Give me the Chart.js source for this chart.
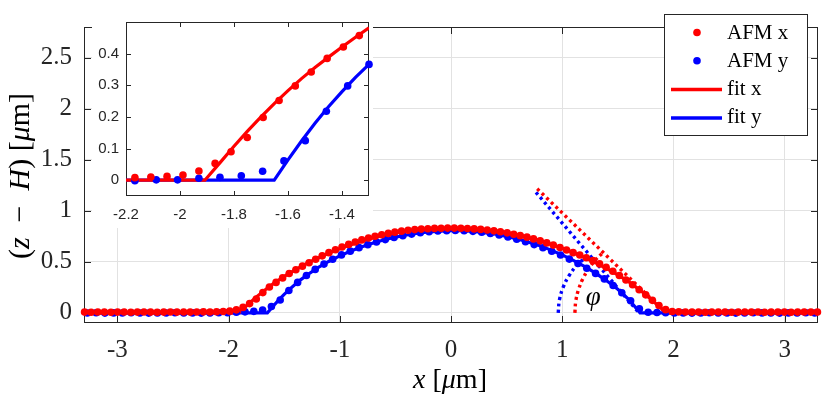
<!DOCTYPE html>
<html>
<head>
<meta charset="utf-8">
<script src="https://cdn.jsdelivr.net/npm/chart.js@4.4.1/dist/chart.umd.min.js"></script>
<style>
  html, body { margin: 0; padding: 0; background: #fff; }
  #wrap { position: relative; width: 823px; height: 399px; }
  #main { position: absolute; left: 0; top: 0; }
  #inset { position: absolute; left: 92px; top: 6px; }
</style>
</head>
<body>
<div id="wrap">
  <canvas id="main" width="823" height="399"></canvas>
  <canvas id="inset" width="281" height="222"></canvas>
</div>
<script>
/* profilo AFM lungo x e y, con fit e angolo di contatto */

// AFM x (punti rossi)
const afmXpos = [
  -3.295,-3.236,-3.176,-3.117,-3.058,-2.998,-2.939,-2.879,-2.820,-2.761,
  -2.701,-2.642,-2.583,-2.523,-2.464,-2.404,-2.345,-2.286,-2.226,-2.167,
  -2.108,-2.048,-1.989,-1.930,-1.870,-1.811,-1.751,-1.692,-1.633,-1.573,
  -1.514,-1.455,-1.395,-1.336,-1.276,-1.217,-1.158,-1.098,-1.039,-0.980,
  -0.920,-0.861,-0.802,-0.742,-0.683,-0.623,-0.564,-0.505,-0.445,-0.386,
  -0.326,-0.267,-0.208,-0.148,-0.089,-0.030,
  0.030,0.089,0.148,0.208,0.267,0.326,0.386,0.445,0.505,0.564,
  0.623,0.683,0.742,0.802,0.861,0.920,0.980,1.039,1.098,1.158,
  1.217,1.276,1.336,1.395,1.455,1.514,1.573,1.633,1.692,1.751,
  1.811,1.870,1.930,1.989,2.048,2.108,2.167,2.226,2.286,2.345,
  2.404,2.464,2.523,2.583,2.642,2.701,2.761,2.820,2.879,2.939,
  2.998,3.058,3.117,3.176,3.236,3.295
];
const afmXval = [
  0.007,0.006,0.008,0.007,0.006,0.007,0.008,0.006,0.007,0.008,
  0.007,0.006,0.007,0.008,0.007,0.008,0.007,0.008,0.009,
  0.008,0.010,0.012,0.016,0.029,0.053,0.090,0.135,0.198,0.252,0.298,0.342,0.385,0.421,0.457,
  0.491,0.525,0.558,0.589,0.618,0.645,0.670,0.693,0.714,0.733,0.750,0.765,0.778,0.790,0.800,
  0.808,0.815,0.820,0.824,0.827,0.829,0.830,
  0.830,0.829,0.826,0.822,0.817,0.811,0.803,0.794,0.783,0.770,0.756,0.741,0.724,0.705,0.685,
  0.663,0.640,0.615,0.589,0.566,0.540,0.511,0.479,0.445,0.407,0.366,0.322,0.275,0.226,0.176,
  0.122,0.072,0.031,0.013,0.009,
  0.008,0.007,0.008,0.006,0.007,0.008,0.007,0.006,0.007,0.008,0.007,
  0.008,0.006,0.007,0.008,0.007,0.006,0.007,0.008,0.007,0.007
];

// AFM y (punti blu)
const afmYpos = [
  -3.270,-3.191,-3.112,-3.034,-2.955,-2.876,-2.797,-2.718,-2.640,-2.561,
  -2.482,-2.403,-2.324,-2.246,-2.167,-2.088,-2.009,-1.930,-1.852,-1.773,
  -1.694,-1.615,-1.536,-1.458,-1.379,-1.300,-1.221,-1.142,-1.064,-0.985,
  -0.906,-0.827,-0.748,-0.670,-0.591,-0.512,-0.433,-0.354,-0.276,-0.197,
  -0.118,-0.039,
  0.039,0.118,0.197,0.276,0.354,0.433,0.512,0.591,0.670,0.748,
  0.827,0.906,0.985,1.064,1.142,1.221,1.300,1.379,1.458,1.536,
  1.615,1.694,1.773,1.852,1.930,2.009,2.088,2.167,2.246,2.324,
  2.403,2.482,2.561,2.640,2.718,2.797,2.876,2.955,3.034,3.112,
  3.191,3.270
];
const afmYval = [
  -0.002,0.000,-0.003,-0.001,-0.002,0.000,-0.002,-0.003,-0.001,-0.002,0.000,-0.002,-0.001,-0.003,
  -0.002,0.001,0.001,0.006,0.009,0.014,0.028,0.061,0.125,0.218,0.298,0.366,
  0.425,0.477,0.525,0.567,0.604,0.638,0.667,0.693,0.717,0.738,0.756,0.771,0.784,0.794,0.801,0.805,
  0.806,0.804,0.798,0.789,0.777,0.762,0.743,0.721,0.696,0.668,0.637,0.603,0.566,0.526,0.483,
  0.436,0.386,0.332,0.268,0.196,0.118,0.040,0.006,0.003,
  0.000,-0.002,-0.001,-0.003,-0.002,0.000,-0.002,-0.001,-0.003,-0.002,0.000,-0.001,-0.002,
  -0.003,-0.001,-0.002,0.000,-0.002
];

// fit x / fit y
const fitXpos = [-3.3,-1.908,-1.85,-1.8,-1.75,-1.7,-1.65,-1.6,-1.55,-1.5,-1.45,-1.4,-1.35,-1.3,
  -1.2,-1.1,-1.0,-0.9,-0.8,-0.7,-0.6,-0.5,-0.4,-0.3,-0.2,-0.1,0,0.1,0.2,0.3,0.4,0.5,0.6,0.7,0.8,0.9,
  1.0,1.1,1.2,1.3,1.4,1.5,1.6,1.7,1.8,1.9,1.93,3.3];
const fitXval = [0,0,0.057,0.107,0.155,0.200,0.243,0.283,0.321,0.356,0.389,0.421,0.452,0.482,
  0.535,0.584,0.628,0.667,0.702,0.734,0.761,0.783,0.801,0.814,0.823,0.828,0.830,0.829,0.824,0.815,
  0.802,0.785,0.763,0.737,0.707,0.672,0.633,0.590,0.542,0.490,0.433,0.372,0.303,0.222,0.130,0.035,0,0];
const fitYpos = [-3.3,-1.651,-1.6,-1.55,-1.5,-1.45,-1.4,-1.35,-1.3,
  -1.2,-1.1,-1.0,-0.9,-0.8,-0.7,-0.6,-0.5,-0.4,-0.3,-0.2,-0.1,0,0.1,0.2,0.3,0.4,0.5,0.6,0.7,0.8,0.9,
  1.0,1.1,1.2,1.3,1.4,1.5,1.6,1.7,3.3];
const fitYval = [0,0,0.064,0.124,0.180,0.232,0.280,0.325,0.366,
  0.440,0.503,0.558,0.606,0.648,0.684,0.715,0.741,0.762,0.779,0.792,0.801,0.805,0.804,0.798,0.786,
  0.770,0.749,0.723,0.692,0.656,0.614,0.567,0.514,0.455,0.388,0.313,0.230,0.130,0,0];

// tangenti e archi dell'angolo (tratteggiati)
const tanXpos = [0.775, 1.93];
const tanXval = [1.215, 0];
const tanYpos = [0.764, 1.69];
const tanYval = [1.18, 0];
const arcXpos = [1.114, 1.122, 1.146, 1.185, 1.238, 1.305, 1.363];
const arcXval = [0, 0.114, 0.225, 0.332, 0.432, 0.525, 0.587];
const arcYpos = [0.964, 0.975, 1.008, 1.061, 1.134, 1.243];
const arcYval = [0, 0.126, 0.248, 0.363, 0.467, 0.572];

// assi
const mainXTicks = [-3, -2, -1, 0, 1, 2, 3];
const mainXLabels = ['-3', '-2', '-1', '0', '1', '2', '3'];
const mainYTicks = [0, 0.5, 1, 1.5, 2, 2.5];
const mainYLabels = ['0', '0.5', '1', '1.5', '2', '2.5'];
const insetXTicks = [-2.2, -2, -1.8, -1.6, -1.4];
const insetXLabels = ['-2.2', '-2', '-1.8', '-1.6', '-1.4'];
const insetYTicks = [0, 0.1, 0.2, 0.3, 0.4];
const insetYLabels = ['0', '0.1', '0.2', '0.3', '0.4'];

const RED = '#ff0000';
const BLUE = '#0000ff';
const AXIS = '#262626';
const GRID = '#e2e2e2';
const SERIF = '"Liberation Serif", "Times New Roman", serif';
const SANS = '"Liberation Sans", Arial, sans-serif';

const pts = (xs, ys) => xs.map((x, i) => ({ x, y: ys[i] }));

function dots(label, xs, ys, color, order) {
  return { label, data: pts(xs, ys), showLine: false, pointRadius: 3.8, pointBorderWidth: 0,
    pointBackgroundColor: color, pointBorderColor: color, order, clip: false };
}
function line(label, xs, ys, color, order, extra) {
  return Object.assign({ label, data: pts(xs, ys), showLine: true, pointRadius: 0, borderColor: color,
    borderWidth: 3.2, tension: 0, order, clip: 0 }, extra || {});
}
function dotted(xs, ys, color, order, tension) {
  return line('', xs, ys, color, order, { borderWidth: 3.4, borderDash: [3, 3.4], borderCapStyle: 'butt', tension });
}

function frame(tickLen) {
  return {
    id: 'frame',
    beforeDatasetsDraw(chart) {
      const { ctx, chartArea: a, scales: { x, y } } = chart;
      ctx.save();
      ctx.strokeStyle = AXIS;
      ctx.lineWidth = 1;
      ctx.beginPath();
      x.ticks.forEach(t => {
        const p = Math.round(x.getPixelForValue(t.value)) + 0.5;
        ctx.moveTo(p, a.bottom); ctx.lineTo(p, a.bottom - tickLen);
        ctx.moveTo(p, a.top); ctx.lineTo(p, a.top + tickLen);
      });
      y.ticks.forEach(t => {
        const p = Math.round(y.getPixelForValue(t.value)) + 0.5;
        ctx.moveTo(a.left, p); ctx.lineTo(a.left + tickLen, p);
        ctx.moveTo(a.right, p); ctx.lineTo(a.right - tickLen, p);
      });
      ctx.stroke();
      ctx.strokeRect(Math.round(a.left) + 0.5, Math.round(a.top) + 0.5, Math.round(a.width) - 1, Math.round(a.height) - 1);
      ctx.restore();
    }
  };
}

function rich(ctx, parts, size) {
  const font = it => (it ? 'italic ' : '') + size + 'px ' + SERIF;
  let w = 0;
  parts.forEach(([t, it]) => { ctx.font = font(it); w += ctx.measureText(t).width; });
  let x = -w / 2;
  parts.forEach(([t, it]) => { ctx.font = font(it); ctx.fillText(t, x, 0); x += ctx.measureText(t).width; });
}

const decorations = {
  id: 'decorations',
  afterDraw(chart) {
    const { ctx, scales: { x, y } } = chart;
    ctx.save();
    ctx.fillStyle = '#000';
    ctx.textBaseline = 'middle';
    ctx.textAlign = 'left';

    // titoli assi
    ctx.save();
    ctx.translate(450, 381);
    rich(ctx, [['x', true], [' [', false], ['μ', true], ['m]', false]], 28);
    ctx.restore();
    ctx.save();
    ctx.translate(21, 176);
    ctx.rotate(-Math.PI / 2);
    rich(ctx, [['(', false], ['z', true], ['\u2002−\u2002', false], ['H', true], [') [', false], ['μ', true], ['m]', false]], 30);
    ctx.restore();

    // angolo
    ctx.save();
    ctx.translate(x.getPixelForValue(1.279), y.getPixelForValue(0.146));
    rich(ctx, [['φ', true]], 27);
    ctx.restore();

    // legenda
    const L = 664, T = 14, W = 143, H = 121;
    ctx.fillStyle = '#fff';
    ctx.fillRect(L, T, W, H);
    ctx.strokeStyle = AXIS;
    ctx.lineWidth = 1;
    ctx.strokeRect(L + 0.5, T + 0.5, W, H);
    const rows = [
      ['AFM x', RED, 'dot'], ['AFM y', BLUE, 'dot'], ['fit x', RED, 'line'], ['fit y', BLUE, 'line']
    ];
    rows.forEach(([txt, col, kind], i) => {
      const cy = T + 19 + i * 28.3;
      if (kind === 'dot') {
        ctx.fillStyle = col;
        ctx.beginPath(); ctx.arc(697, cy - 0.5, 3.8, 0, Math.PI * 2); ctx.fill();
      } else {
        ctx.strokeStyle = col; ctx.lineWidth = 3.5;
        ctx.beginPath(); ctx.moveTo(671, cy); ctx.lineTo(722, cy); ctx.stroke();
      }
      ctx.fillStyle = '#000';
      ctx.font = '21px ' + SERIF;
      ctx.fillText(txt, 727, cy);
    });
    ctx.restore();
  }
};

const whiteBg = {
  id: 'whiteBg',
  beforeDraw(chart) {
    const { ctx, width, height } = chart;
    ctx.save();
    ctx.fillStyle = '#fff';
    ctx.fillRect(0, 0, width, height);
    ctx.restore();
  }
};

function axis(min, max, ticks, labels, font, pad, size, horizontal, grid) {
  return {
    type: 'linear', min, max,
    afterBuildTicks: s => { s.ticks = ticks.map(v => ({ value: v })); },
    afterFit: s => { if (horizontal) s.height = size; else s.width = size; },
    grid: { display: grid, color: GRID, lineWidth: 1, drawTicks: false },
    border: { display: false },
    ticks: { autoSkip: false, maxRotation: 0, padding: pad, color: AXIS, font,
      callback: (v, i) => labels[i] }
  };
}

new Chart(document.getElementById('main'), {
  type: 'scatter',
  data: {
    datasets: [
      dots('AFM x', afmXpos, afmXval, RED, 0),
      dots('AFM y', afmYpos, afmYval, BLUE, 1),
      line('fit x', fitXpos, fitXval, RED, 2),
      line('fit y', fitYpos, fitYval, BLUE, 3),
      dotted(tanXpos, tanXval, RED, 4, 0),
      dotted(tanYpos, tanYval, BLUE, 5, 0),
      dotted(arcXpos, arcXval, RED, 6, 0.4),
      dotted(arcYpos, arcYval, BLUE, 7, 0.4)
    ]
  },
  options: {
    responsive: false,
    animation: false,
    layout: { padding: { left: 0, top: 1, right: 5, bottom: 0 } },
    plugins: { legend: { display: false }, tooltip: { enabled: false } },
    scales: {
      x: axis(-3.3, 3.3, mainXTicks, mainXLabels, { family: SERIF, size: 25 }, 12, 76, true, true),
      y: axis(-0.1, 2.8, mainYTicks, mainYLabels, { family: SERIF, size: 25 }, 12, 84, false, true)
    }
  },
  plugins: [frame(7), decorations]
});

new Chart(document.getElementById('inset'), {
  type: 'scatter',
  data: {
    datasets: [
      dots('AFM x', afmXpos, afmXval, RED, 0),
      dots('AFM y', afmYpos, afmYval, BLUE, 1),
      line('fit x', fitXpos, fitXval, RED, 2),
      line('fit y', fitYpos, fitYval, BLUE, 3)
    ]
  },
  options: {
    responsive: false,
    animation: false,
    layout: { padding: { left: 0, top: 5, right: 1, bottom: 0 } },
    plugins: { legend: { display: false }, tooltip: { enabled: false } },
    scales: {
      x: axis(-2.2, -1.3, insetXTicks, insetXLabels, { family: SANS, size: 15 }, 10, 32, true, false),
      y: axis(-0.05, 0.5, insetYTicks, insetYLabels, { family: SANS, size: 15 }, 7, 34, false, false)
    }
  },
  plugins: [whiteBg, frame(5)]
});
</script>
</body>
</html>
